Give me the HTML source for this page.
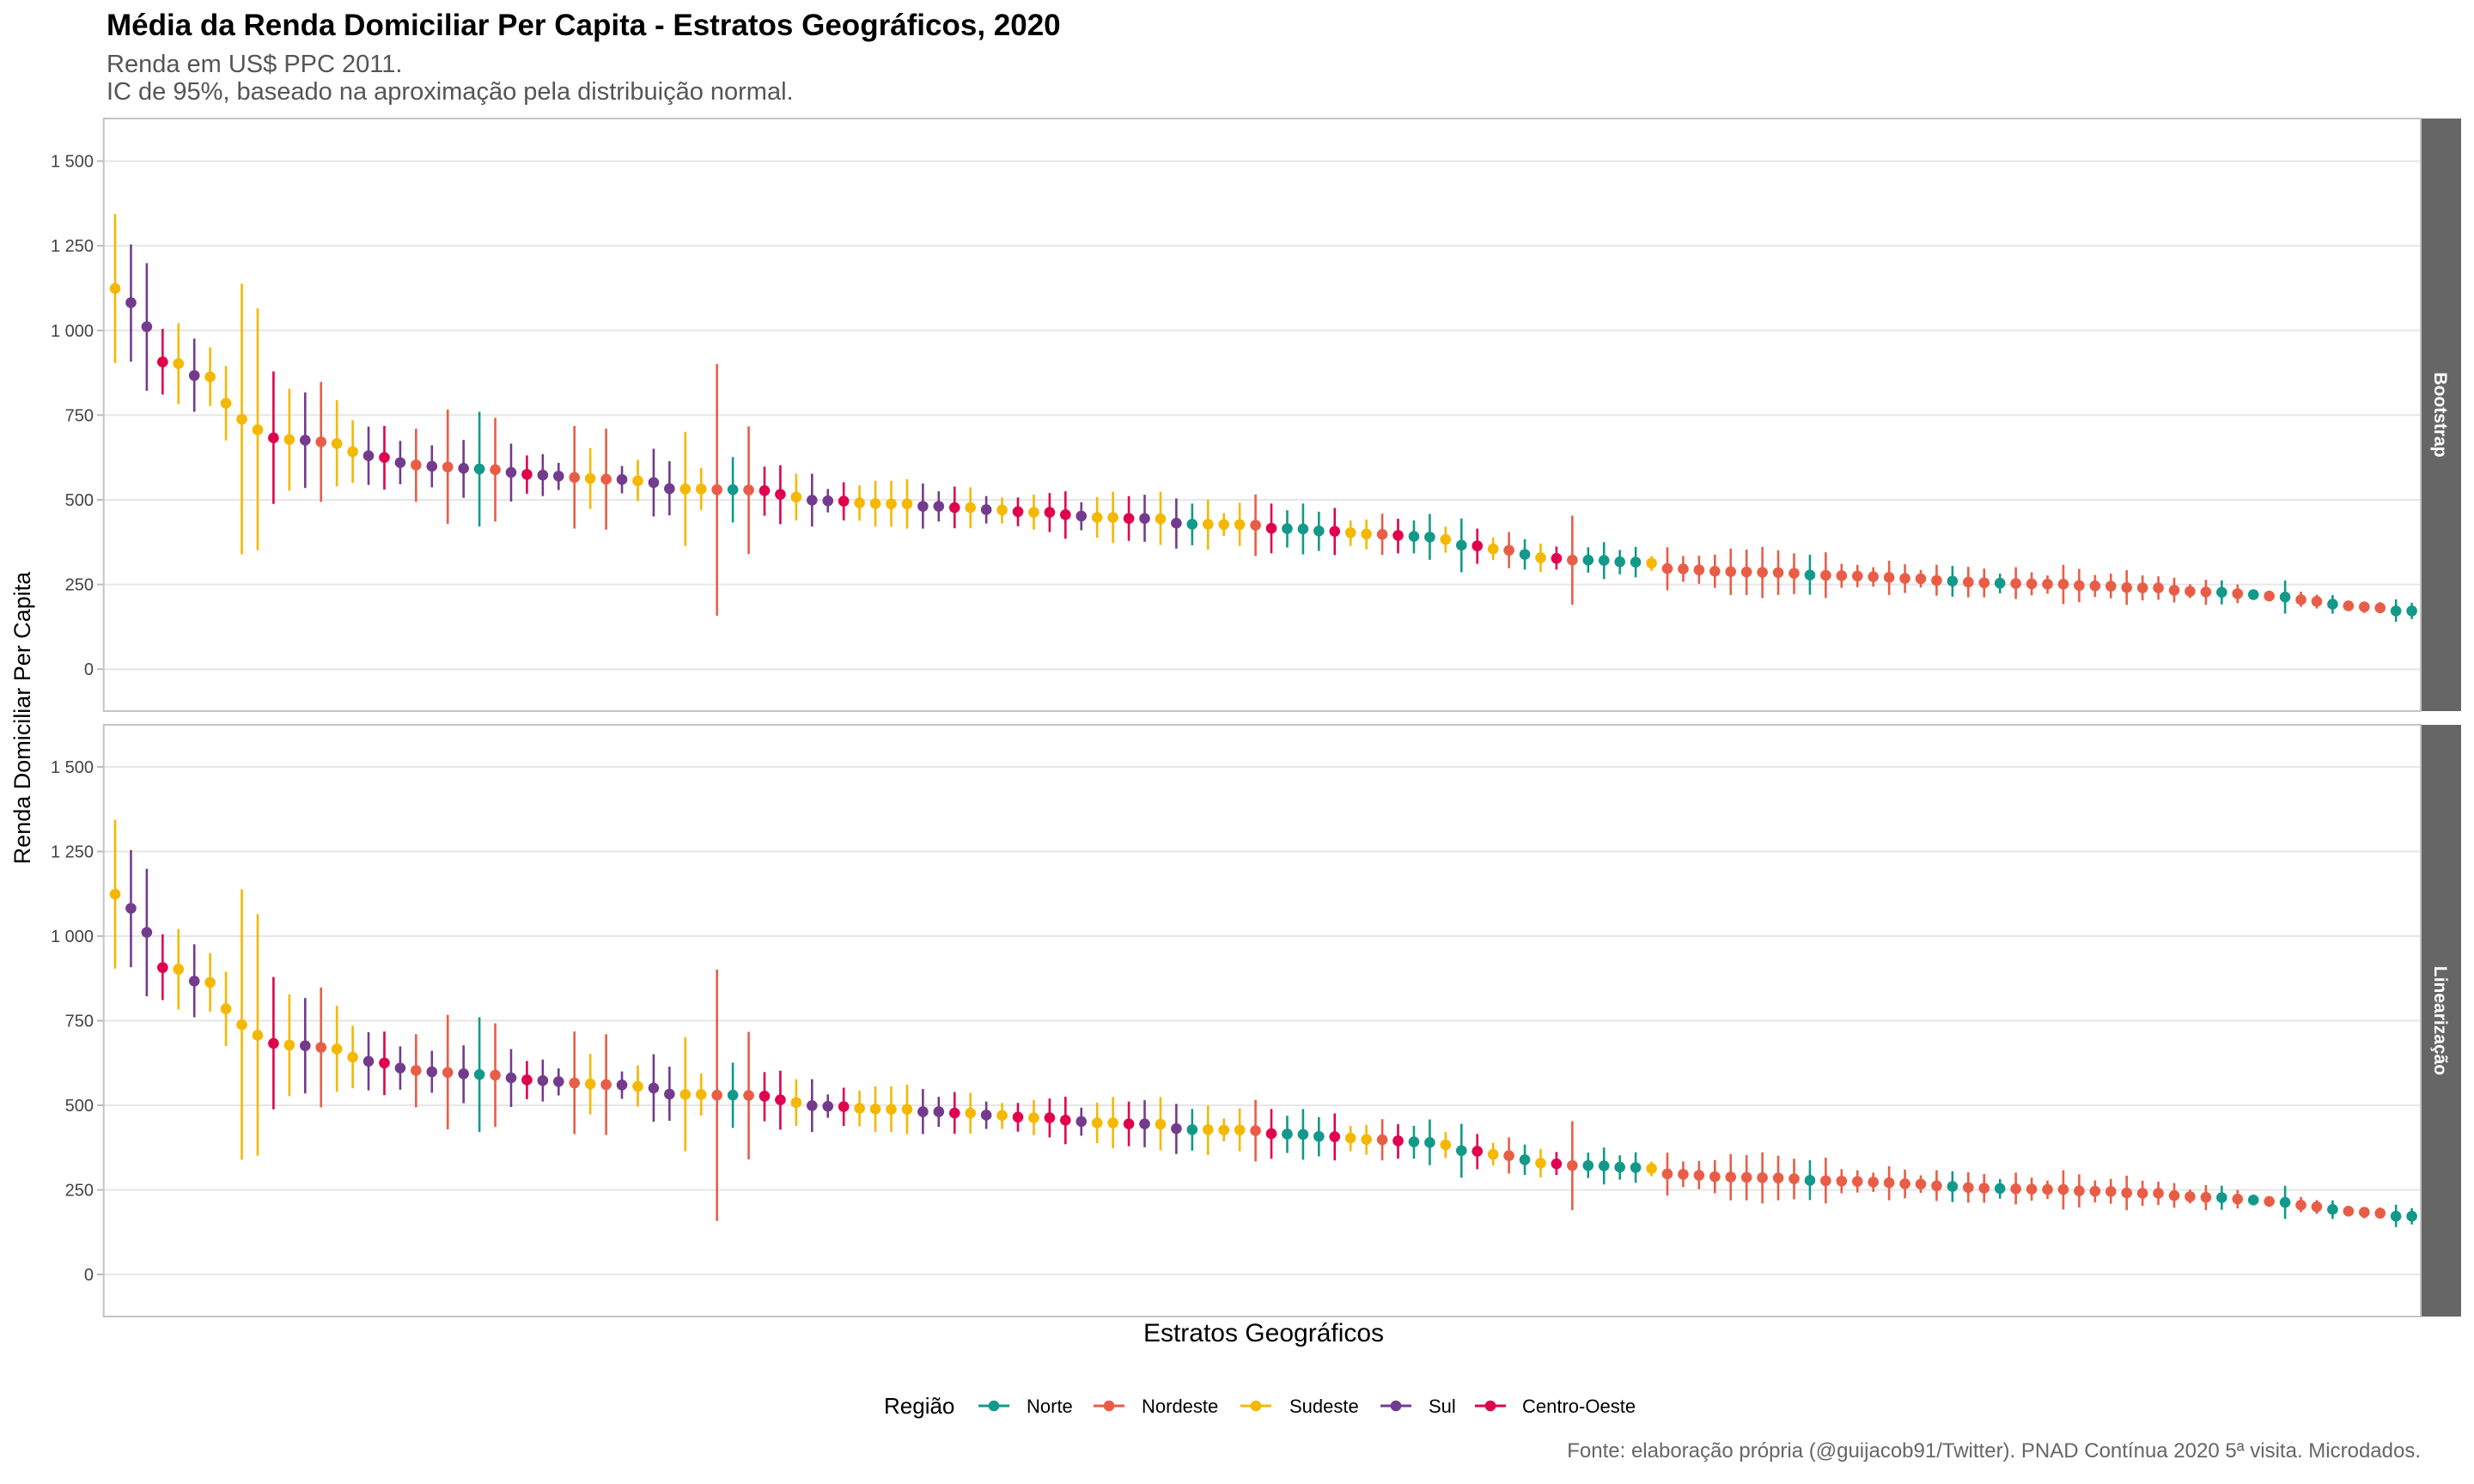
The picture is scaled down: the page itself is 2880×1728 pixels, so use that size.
<!DOCTYPE html>
<html><head><meta charset="utf-8"><style>
html,body{margin:0;padding:0;background:#fff;}
svg{display:block;font-family:"Liberation Sans",Arial,sans-serif;}
</style></head><body>
<svg id="chart" width="2880" height="1728" viewBox="0 0 2880 1728">
<text x="124" y="41" font-size="35" font-weight="bold" fill="#000">Média da Renda Domiciliar Per Capita - Estratos Geográficos, 2020</text>
<text x="124" y="84" font-size="29" fill="#555">Renda em US$ PPC 2011.</text>
<text x="124" y="116" font-size="29" fill="#555">IC de 95%, baseado na aproximação pela distribuição normal.</text>
<text transform="translate(35,836) rotate(-90)" text-anchor="middle" font-size="27" fill="#000">Renda Domiciliar Per Capita</text>
<text x="1471" y="1562" text-anchor="middle" font-size="30" fill="#000">Estratos Geográficos</text>
<g id="legend">
<text x="1029" y="1646" font-size="26" fill="#000">Região</text>
</g>
<text x="2818" y="1697" text-anchor="end" font-size="24" fill="#666">Fonte: elaboração própria (@guijacob91/Twitter). PNAD Contínua 2020 5ª visita. Microdados.</text>
</svg>
<script>
const regions = ["D","S","S","C","D","S","D","D","D","D","C","D","S","E","D","D","S","C","S","E","S","E","S","N","E","S","C","S","S","E","D","E","S","D","S","S","D",
"D","E","N","E","C","C","D","S","S","C","D","D","D","D","S","S","C","D","S","D","C","D","C","C","S","D","D","C","S","D","S","N","D","D","D","E","C",
"N","N","N","C","D","D","E","C","N","N","D","N","C","D","E","N","D","C","E","N","N","N","N","D","E","E","E","E","E","E","E","E","E","N","E","E","E",
"E","E","E","E","E","N","E","E","N","E","E","E","E","E","E","E","E","E","E","E","E","E","N","E","N","E","N","E","E","N","E","E","E","N","N"];
const means = [1124,1082,1011,907,902,867,863,785,738,707,683,678,676,671,666,642,630,625,610,603,599,597,593,591,589,581,575,573,570,566,563,561,560,556,551,533,532,
532,530,530,529,527,516,508,499,497,496,491,489,488,488,481,481,477,477,471,470,465,463,463,456,452,448,448,445,445,444,431,428,428,427,427,425,416,
415,414,408,407,403,399,398,395,392,390,383,366,364,355,351,339,329,327,322,322,321,317,316,313,297,296,293,289,288,287,286,285,283,278,277,276,275,
273,271,268,267,262,260,257,255,254,253,252,251,251,247,246,245,241,240,240,233,230,228,227,223,220,216,213,205,200,192,187,184,181,172,172];
const upper = [1344,1254,1199,1005,1021,976,950,895,1138,1065,879,828,817,848,794,735,716,718,674,710,661,767,677,760,742,666,631,635,609,718,652,710,600,618,651,614,701,
594,901,626,717,598,602,577,577,532,552,543,556,556,561,548,525,539,537,511,507,507,515,520,525,493,508,524,511,515,524,504,489,500,461,491,516,489,
469,489,465,476,439,442,459,444,439,458,421,445,415,389,405,384,371,362,453,360,375,352,361,334,360,334,335,338,356,353,361,351,342,338,345,311,308,
301,320,310,293,308,305,302,297,282,301,286,277,308,296,278,282,292,277,274,270,251,264,262,250,231,229,262,229,220,219,199,198,198,206,196];
const lower = [904,908,822,811,783,760,777,675,339,351,488,527,535,494,540,550,544,530,546,494,537,429,506,421,436,495,518,511,529,415,473,412,519,496,451,454,364,
470,158,433,340,453,428,439,421,463,439,438,421,421,415,415,436,416,416,430,430,422,412,405,385,410,388,373,379,376,367,356,366,353,393,364,334,342,
359,339,349,337,364,354,337,342,342,323,344,286,311,322,298,294,287,294,190,285,266,280,271,290,233,258,252,240,219,219,210,219,222,220,210,240,242,
244,219,225,241,217,214,212,212,224,207,218,223,192,198,213,209,190,203,205,197,210,190,191,195,209,202,164,184,179,164,174,166,165,140,148];
const yTicks = [0,250,500,750,1000,1250,1500];
const tickLabels = ["0","250","500","750","1 000","1 250","1 500"];
const legendNames = ["Norte","Nordeste","Sudeste","Sul","Centro-Oeste"];
const legendCodes = ["N","E","D","S","C"];
const colors = {N:"#12998A",E:"#E95D47",D:"#F5B800",S:"#733B8D",C:"#E0004D"};

const NS = "http://www.w3.org/2000/svg";
const svg = document.getElementById("chart");
function mk(tag, attrs, parent){const e=document.createElementNS(NS,tag);for(const k in attrs)e.setAttribute(k,attrs[k]);(parent||svg).appendChild(e);return e;}

const xLeft = 120.7, xRight = 2818;
function xPos(i){ return 134 + i*(2807.6-134)/(means.length-1); }

const panels = [
  {name:"Bootstrap", top:138, bottom:828, zeroY:779.2, per250:98.6},
  {name:"Linearização", top:844, bottom:1533, zeroY:1484, per250:98.5}
];

panels.forEach((p, pi)=>{
  const yPos = v => p.zeroY - v*p.per250/250;
  const g = mk("g",{});
  
  
  yTicks.forEach((t,k)=>{
    const y = yPos(t);
    const gl = mk("line",{x1:xLeft,x2:xRight,y1:y,y2:y,stroke:"#e6e6e6","stroke-width":2},g);
    
    
    const tk = mk("line",{x1:113,x2:120,y1:y,y2:y,stroke:"#bbb","stroke-width":2},g);
    
    
    const lb = mk("text",{x:109,y:y+7,"text-anchor":"end","font-size":20,fill:"#444"},g);
    lb.textContent = tickLabels[k];
    
    
  });
  const border = mk("rect",{x:xLeft,y:p.top,width:xRight-xLeft,height:p.bottom-p.top,fill:"none",stroke:"#c4c4c4","stroke-width":2},g);
  
  
  const strip = mk("rect",{x:2819,y:p.top,width:46,height:p.bottom-p.top,fill:"#666"},g);
  
  
  const cy = (p.top+p.bottom)/2;
  const st = mk("text",{transform:`translate(2834,${cy}) rotate(90)`,"text-anchor":"middle","font-size":21,"font-weight":"bold",fill:"#fff"},g);
  st.textContent = p.name;
  
  
  means.forEach((m,i)=>{
    const c = colors[regions[i]];
    const x = xPos(i);
    const ln = mk("line",{x1:x,x2:x,y1:yPos(upper[i]),y2:yPos(lower[i]),stroke:c,"stroke-width":2.6},g);
    
    
    const pt = mk("circle",{cx:x,cy:yPos(m),r:6.3,fill:c},g);
    
    
  });
});

const legend = document.getElementById("legend");
const keyX = [1157,1291,1462,1625,1735];
const textX = [1195,1329,1501,1663,1772];
legendCodes.forEach((code,k)=>{
  const c = colors[code];
  const kl = mk("line",{x1:keyX[k]-18,x2:keyX[k]+18,y1:1637,y2:1637,stroke:c,"stroke-width":3},legend);
  
  
  const kc = mk("circle",{cx:keyX[k],cy:1637,r:6.3,fill:c},legend);
  
  
  const t = mk("text",{x:textX[k],y:1645,"font-size":22,fill:"#000"},legend);
  t.textContent = legendNames[k];
  
  
});
</script>
</body></html>
